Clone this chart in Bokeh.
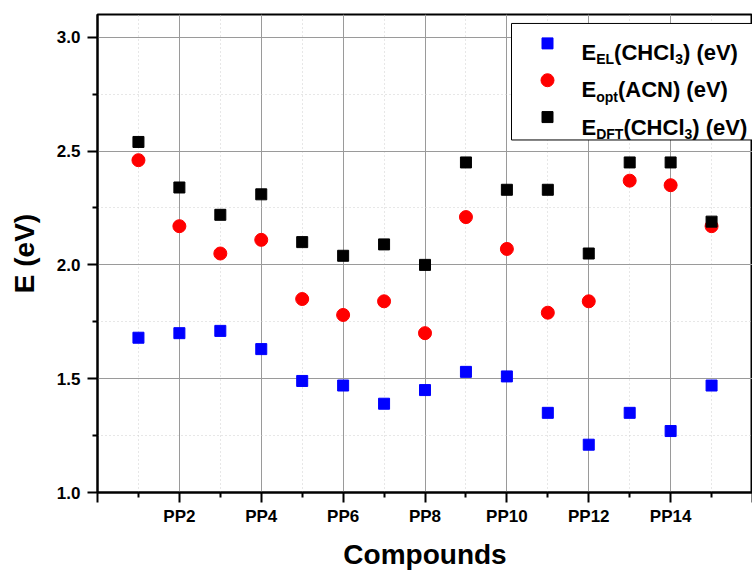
from bokeh.plotting import figure
from bokeh.models import Range1d, FixedTicker, PrintfTickFormatter
from bokeh.core.properties import value
from bokeh.embed import file_html
from bokeh.resources import INLINE

# ---------------- data ----------------
compound_index = list(range(1, 16))
compound_names = [f"PP{i}" for i in compound_index]
e_el_chcl3 = [1.68, 1.70, 1.71, 1.63, 1.49, 1.47, 1.39, 1.45, 1.53, 1.51, 1.35, 1.21, 1.35, 1.27, 1.47]
e_opt_acn = [2.46, 2.17, 2.05, 2.11, 1.85, 1.78, 1.84, 1.70, 2.21, 2.07, 1.79, 1.84, 2.37, 2.35, 2.17]
e_dft_chcl3 = [2.54, 2.34, 2.22, 2.31, 2.10, 2.04, 2.09, 2.00, 2.45, 2.33, 2.33, 2.05, 2.45, 2.45, 2.19]
x_major_ticks = [0, 2, 4, 6, 8, 10, 12, 14, 16]
x_minor_ticks = [1, 3, 5, 7, 9, 11, 13, 15]
y_major_ticks = [1.0, 1.5, 2.0, 2.5, 3.0]
y_minor_ticks = [1.25, 1.75, 2.25, 2.75]

FONT = "Liberation Sans"
W, H = 752, 572
LEFT, TOP, BOTTOM = 97, 14, 78
X0, X1 = 0, 16
Y0, Y1 = 1.0, 3.1
FW = W - LEFT
FH = H - TOP - BOTTOM

p = figure(width=W, height=H, output_backend="svg", toolbar_location=None,
           x_range=Range1d(X0, X1), y_range=Range1d(Y0, Y1),
           min_border_left=LEFT, min_border_right=0, min_border_top=TOP,
           min_border_bottom=BOTTOM)
p.background_fill_color = "white"
p.border_fill_color = "white"
p.outline_line_color = "black"
p.outline_line_width = 2

# axes
labels = {t: ("" if t in (0, 16) else compound_names[t - 1]) for t in x_major_ticks}
p.xaxis.ticker = FixedTicker(ticks=x_major_ticks, minor_ticks=x_minor_ticks)
p.xaxis.major_label_overrides = labels
p.yaxis.ticker = FixedTicker(ticks=y_major_ticks, minor_ticks=y_minor_ticks)
p.yaxis.formatter = PrintfTickFormatter(format="%.1f")
for ax in (p.xaxis[0], p.yaxis[0]):
    ax.axis_line_width = 2
    ax.major_tick_line_width = 2
    ax.minor_tick_line_width = 2
    ax.major_tick_out = 10
    ax.major_tick_in = 0
    ax.minor_tick_out = 5
    ax.minor_tick_in = 0
    ax.major_label_text_font = FONT
    ax.major_label_text_font_style = "bold"
    ax.major_label_text_font_size = "17px"
    ax.major_label_text_color = "black"
    ax.axis_label_text_font = FONT
    ax.axis_label_text_font_style = "bold"
    ax.axis_label_text_font_size = "28px"
    ax.axis_label_text_color = "black"
p.xaxis.major_label_standoff = 4
p.yaxis.major_label_standoff = 7
p.xaxis.axis_label = "Compounds"
p.yaxis.axis_label = "E (eV)"
p.xaxis.axis_label_standoff = 10
p.yaxis.axis_label_standoff = 14

# grids
for g in (p.xgrid[0], p.ygrid[0]):
    g.grid_line_color = "#9a9a9a"
    g.grid_line_width = 1
    g.minor_grid_line_color = "#cfcfcf"
    g.minor_grid_line_dash = "1 3"
    g.minor_grid_line_width = 1

# data points
p.scatter(compound_index, e_el_chcl3, marker="square", size=11, color="#0000ff")
p.scatter(compound_index, e_opt_acn, marker="circle", size=13, color="#ff0000")
p.scatter(compound_index, e_dft_chcl3, marker="square", size=11, color="black")


def dx(px):
    return X0 + (px - LEFT) / FW * (X1 - X0)


def dy(py):
    return Y0 + (H - BOTTOM - py) / FH * (Y1 - Y0)


# ---------------- legend (drawn by hand to allow subscripts) ----------------
p.quad(left=[dx(511)], right=[dx(800)], top=[dy(23)], bottom=[dy(140)],
       fill_color="white", line_color="black", line_width=1)

AW = {"E": .667, "L": .611, "(": .333, "C": .722, "H": .722, "l": .278, ")": .333,
      " ": .278, "e": .556, "V": .667, "o": .611, "p": .611, "t": .333, "A": .722,
      "N": .722, "D": .722, "F": .611, "T": .611, "3": .556}


def tw(s, size):
    return sum(AW.get(c, .6) for c in s) * size


BIG, SMALL = 22, 14
legend_entries = [
    ("#0000ff", "square", 11, [("E", 0), ("EL", 1), ("(CHCl", 0), ("3", 1), (") (eV)", 0)]),
    ("#ff0000", "circle", 13, [("E", 0), ("opt", 1), ("(ACN) (eV)", 0)]),
    ("black", "square", 11, [("E", 0), ("DFT", 1), ("(CHCl", 0), ("3", 1), (") (eV)", 0)]),
]
for i, (col, mk, sz, parts) in enumerate(legend_entries):
    cy = 43 + 37 * i
    base = 52 + 37.5 * i
    p.scatter([dx(547)], [dy(cy)], marker=mk, size=sz, color=col)
    xpos = 581
    for txt, sub in parts:
        fs = SMALL if sub else BIG
        ypx = base + (7 if sub else 0)
        p.text([dx(xpos)], [dy(ypx)], text=[txt], text_font=value(FONT),
               text_font_style="bold", text_font_size=f"{fs}px",
               text_color="black", text_baseline="alphabetic", text_align="left")
        xpos += tw(txt, fs)

open("out.html", "w").write(file_html(p, INLINE))
